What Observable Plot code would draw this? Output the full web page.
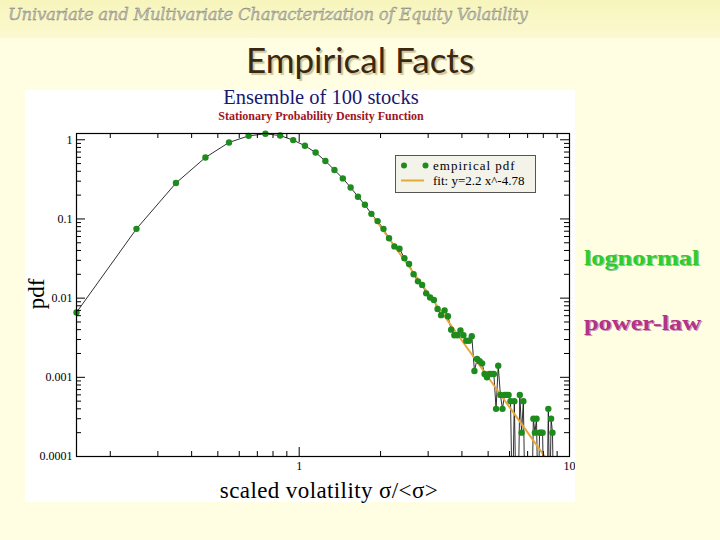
<!DOCTYPE html>
<html><head><meta charset="utf-8">
<script src="https://cdn.jsdelivr.net/npm/d3@7"></script>
<script src="https://cdn.jsdelivr.net/npm/@observablehq/plot@0.6"></script>
<style>
html,body{margin:0;padding:0}
body{width:720px;height:540px;position:relative;overflow:hidden;background:#fffde2;font-family:"Liberation Serif",serif}
#band{position:absolute;left:0;top:0;width:720px;height:38px;background:linear-gradient(#f7f5bc,#fbf9cf)}
#title{position:absolute;left:8px;top:5px;font-family:"DejaVu Serif",serif;font-style:italic;font-size:16.5px;letter-spacing:-0.3px;color:#bdbdb4;-webkit-text-stroke:0.3px #77776f;white-space:nowrap}
#heading{position:absolute;left:0;width:720px;top:38px;text-align:center;font-family:Lato,"Noto Sans",sans-serif;font-size:35px;color:#3a2810;text-shadow:2px 2px 1px #cfc49c;white-space:nowrap}
#chart{position:absolute;left:25px;top:90px;width:550px;height:412px;background:#fff}
#chart svg{display:block}
#ctitle{position:absolute;left:0;width:642px;top:86px;text-align:center;font-size:20.5px;color:#18186e;white-space:nowrap}
#csub{position:absolute;left:0;width:642px;top:109px;text-align:center;font-size:12px;font-weight:bold;color:#a0141e;white-space:nowrap}
#legend{position:absolute;left:395px;top:155px;width:139px;height:36px;background:#f3f3ea;border:1px solid #555}
#legend svg{position:absolute;left:0;top:0}
.lt{position:absolute;left:37px;font-size:13px;color:#000;white-space:nowrap}
#ylab{position:absolute;left:37px;top:294px;transform:translate(-50%,-50%) rotate(-90deg);font-size:23px;white-space:nowrap}
#xlab{position:absolute;left:0;width:658px;top:478px;text-align:center;font-size:23px;letter-spacing:0.4px;white-space:nowrap}
.side{position:absolute;left:584px;font-weight:bold;font-size:21px;transform:scaleX(1.25);transform-origin:left center;white-space:nowrap}
#logn{top:246px;color:#2fcc2f;text-shadow:1px 1px 0 #8fc88f}
#pow{top:311px;color:#b23388;text-shadow:1px 1px 0 #c99ab8}
</style></head>
<body>
<div id="band"></div>
<div id="title">Univariate and Multivariate Characterization of Equity Volatility</div>
<div id="heading">Empirical Facts</div>
<div id="chart"></div>
<div id="ctitle">Ensemble of 100 stocks</div>
<div id="csub">Stationary Probability Density Function</div>
<div id="legend">
  <svg width="139" height="36">
    <circle cx="8" cy="9.5" r="3" fill="#1d8c1d"/>
    <circle cx="29.5" cy="9.5" r="3" fill="#1d8c1d"/>
    <line x1="5" y1="24.5" x2="28" y2="24.5" stroke="#e5a83a" stroke-width="2"/>
  </svg>
  <div class="lt" style="top:2px;letter-spacing:1px">empirical pdf</div>
  <div class="lt" style="top:17px">fit: y=2.2 x^-4.78</div>
</div>
<div id="ylab">pdf</div>
<div id="xlab">scaled volatility σ/&lt;σ&gt;</div>
<div class="side" id="logn">lognormal</div>
<div class="side" id="pow">power-law</div>
<script>
// ---- data ----
const xTickValues = [1, 10];
const xTickLabels = ["1", "10"];
const yTickValues = [0.0001, 0.001, 0.01, 0.1, 1];
const yTickLabels = ["0.0001", "0.001", "0.01", "0.1", "1"];
const xMinorTicks = [0.2, 0.3, 0.4, 0.5, 0.6, 0.7, 0.8, 0.9, 2, 3, 4, 5, 6, 7, 8, 9];
const yDecades = [0.0001, 0.001, 0.01, 0.1];
const yMinorMultipliers = [2, 3, 4, 5, 6, 7, 8, 9];

const volX = [0.15,0.25,0.35,0.45,0.55,0.65,0.75,0.85,0.95,1.05,
  1.15,1.25,1.35,1.45,1.55,1.65,1.75,1.85,1.95,2.05,
  2.15,2.25,2.35,2.45,2.55,2.65,2.75,2.85,2.95,3.05,
  3.15,3.25,3.35,3.45,3.55,3.65,3.75,3.85,3.95,4.05,
  4.15,4.25,4.35,4.45,4.55,4.65,4.75,4.85,4.95,5.05,
  5.15,5.25,5.35,5.45,5.55,5.65,5.75,5.85,5.95,6.05,
  6.15,6.25,6.35,6.45,6.55,6.65,6.75,6.85,6.95,7.05,
  7.15,7.25,7.35,7.45,7.55,7.65,7.75,7.85,7.95,8.05,
  8.15,8.25,8.35,8.45,8.55,8.65,8.75];
const pdfY = [0.0066,0.075,0.284,0.598,0.925,1.12,1.19,1.13,0.99,0.84,
  0.69,0.54,0.415,0.325,0.25,0.191,0.151,0.116,0.094,0.075,
  0.057,0.045,0.042,0.032,0.027,0.020,0.0163,0.0147,0.0115,0.0102,
  0.0095,0.0073,0.0061,0.0070,0.0059,0.0040,0.0034,0.0034,0.0039,0.0034,
  0.0029,0.0029,0.0033,0.0012,0.0017,0.0016,0.0015,0.0011,0.0010,0.0011,
  0.0011,0.0011,0.0004,0.0014,0.0006,0.0004,0.0006,0.0006,0.0006,0.0005,
  0,0.0005,0,0,0.0006,0.0002,0.0005,0,0,0,
  0,0,0.0003,0.0002,0.0003,0,0.0002,0.0002,0.0002,0,
  0,0,0.0004,0,0.0003,0.0002,0];
const fitX = [1.9, 8.3];
const fitY = [0.102, 0.000089];

// ---- tables built from the arrays ----
const zeroFloor = 0.00002; // empty bins: the line dives below the axis
const pdfTable = volX.map((x, i) => ({x, y: pdfY[i], yp: pdfY[i] > 0 ? pdfY[i] : zeroFloor}));
const fitTable = fitX.map((x, i) => ({x, y: fitY[i]}));
const yMajorTicks = yTickValues;
const yMinorTicks = yDecades.flatMap(d => yMinorMultipliers.map(m => m * d));
const xMajorTicks = xTickValues;

const W = 550, H = 412, ML = 51, MR = 6, MT = 43, MB = 46;
const iw = W - ML - MR, ih = H - MT - MB;
const majL = 9, minL = 5;

const chart = Plot.plot({
  width: W, height: H,
  marginLeft: ML, marginRight: MR, marginTop: MT, marginBottom: MB,
  style: {background: "transparent", fontFamily: "Liberation Serif, serif", fontSize: "12px", color: "#000"},
  x: {type: "log", domain: [0.15, 10], ticks: xTickValues,
      tickFormat: d => xTickLabels[xTickValues.indexOf(d)], tickSize: 0, tickPadding: 5, label: null},
  y: {type: "log", domain: [0.0001, 1.2], ticks: yTickValues,
      tickFormat: d => yTickLabels[yTickValues.indexOf(d)], tickSize: 0, tickPadding: 4, label: null},
  marks: [
    Plot.line(pdfTable, {x: "x", y: "yp", stroke: "#1a1a1a", strokeWidth: 0.9, clip: true}),
    Plot.line(fitTable, {x: "x", y: "y", stroke: "#e5a83a", strokeWidth: 2, clip: true}),
    Plot.dot(pdfTable.filter(d => d.y > 0), {x: "x", y: "y", r: 3.2, fill: "#1d8c1d"}),
    // inward ticks on all four sides
    Plot.tickY(yMajorTicks, {y: d => d, insetRight: iw - majL, stroke: "#000"}),
    Plot.tickY(yMinorTicks, {y: d => d, insetRight: iw - minL, stroke: "#000"}),
    Plot.tickY(yMajorTicks, {y: d => d, insetLeft: iw - majL, stroke: "#000"}),
    Plot.tickY(yMinorTicks, {y: d => d, insetLeft: iw - minL, stroke: "#000"}),
    Plot.tickX(xMajorTicks, {x: d => d, insetTop: ih - majL, stroke: "#000"}),
    Plot.tickX(xMinorTicks, {x: d => d, insetTop: ih - minL, stroke: "#000"}),
    Plot.tickX(xMajorTicks, {x: d => d, insetBottom: ih - majL, stroke: "#000"}),
    Plot.tickX(xMinorTicks, {x: d => d, insetBottom: ih - minL, stroke: "#000"}),
    Plot.frame({stroke: "#000", strokeWidth: 1.2})
  ]
});
document.getElementById("chart").appendChild(chart);
</script>
</body></html>
